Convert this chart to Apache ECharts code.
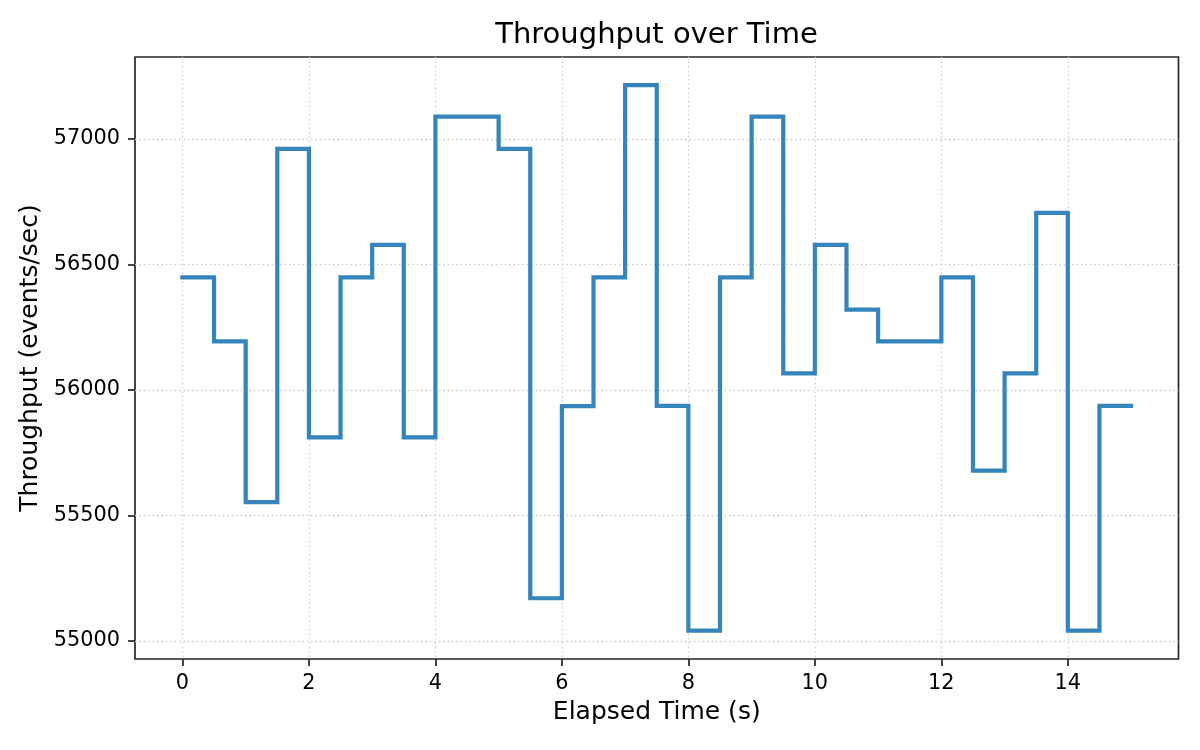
<!DOCTYPE html>
<html>
<head>
<meta charset="utf-8">
<script src="https://cdn.jsdelivr.net/npm/echarts@6/dist/echarts.min.js"></script>
<style>
html,body{margin:0;padding:0;background:#fff;}
#chart{width:1200px;height:750px;}
</style>
</head>
<body>
<div id="chart"></div>
<script>
// Elapsed time (s) of each step start
const times = [0, 0.5, 1, 1.5, 2, 2.5, 3, 3.5, 4, 4.5, 5, 5.5, 6, 6.5, 7, 7.5,
               8, 8.5, 9, 9.5, 10, 10.5, 11, 11.5, 12, 12.5, 13, 13.5, 14, 14.5, 15];
// Throughput (events/sec) held from each time to the next
const throughput = [56449, 56194, 55553, 56961, 55811, 56449, 56578, 55811, 57089, 57089,
                    56961, 55170, 55936, 56449, 57215, 55937, 55041, 56449, 57089, 56066,
                    56578, 56320, 56194, 56194, 56449, 55679, 56066, 56706, 55041, 55937, 55937];
const xTickValues = [0, 2, 4, 6, 8, 10, 12, 14];
const yTickValues = [55000, 55500, 56000, 56500, 57000];

const titleText = 'Throughput over Time';
const xName = 'Elapsed Time (s)';
const yName = 'Throughput (events/sec)';

const font = 'DejaVu Sans';
const chart = echarts.init(document.getElementById('chart'), null, {renderer: 'canvas'});

const seriesData = times.map((t, i) => [t, throughput[i]]);

const option = {
  backgroundColor: '#ffffff',
  animation: false,
  title: {
    text: titleText,
    left: 656.5,
    textAlign: 'center',
    top: 21,
    padding: 0,
    textStyle: {fontFamily: font, fontSize: 29, fontWeight: 'normal', color: '#000'}
  },
  grid: {
    left: 135, right: 21.5, top: 57, bottom: 91,
    show: true, borderColor: '#262626', borderWidth: 1.7, backgroundColor: 'transparent',
    containLabel: false
  },
  xAxis: {
    type: 'value',
    min: -0.75, max: 15.75,
    name: xName,
    nameLocation: 'middle',
    nameGap: 41,
    nameTextStyle: {fontFamily: font, fontSize: 25, color: '#000'},
    axisLine: {show: false, onZero: false},
    axisTick: {show: true, length: 7, lineStyle: {color: '#262626', width: 1.7}, customValues: xTickValues},
    axisLabel: {fontFamily: font, fontSize: 20.8, color: '#000', margin: 14, customValues: xTickValues,
                formatter: v => String(v)},
    splitLine: {show: true, lineStyle: {color: '#cfcfcf', width: 1.3, type: [1.6, 2.8]}}
  },
  yAxis: {
    type: 'value',
    min: 54928, max: 57327,
    name: yName,
    nameLocation: 'middle',
    nameRotate: 90,
    nameGap: 80,
    nameTextStyle: {fontFamily: font, fontSize: 25, color: '#000'},
    axisLine: {show: false, onZero: false},
    axisTick: {show: true, length: 7, lineStyle: {color: '#262626', width: 1.7}, customValues: yTickValues},
    axisLabel: {fontFamily: font, fontSize: 20.8, color: '#000', margin: 15, customValues: yTickValues,
                formatter: v => String(v)},
    splitLine: {show: true, lineStyle: {color: '#cfcfcf', width: 1.3, type: [1.6, 2.8]}}
  },
  series: [{
    type: 'line',
    step: 'end',
    data: seriesData,
    showSymbol: false,
    symbol: 'none',
    lineStyle: {color: '#3585bc', width: 4.2, join: 'miter', cap: 'square'},
    itemStyle: {color: '#3585bc'}
  }]
};
chart.setOption(option);
</script>
</body>
</html>
